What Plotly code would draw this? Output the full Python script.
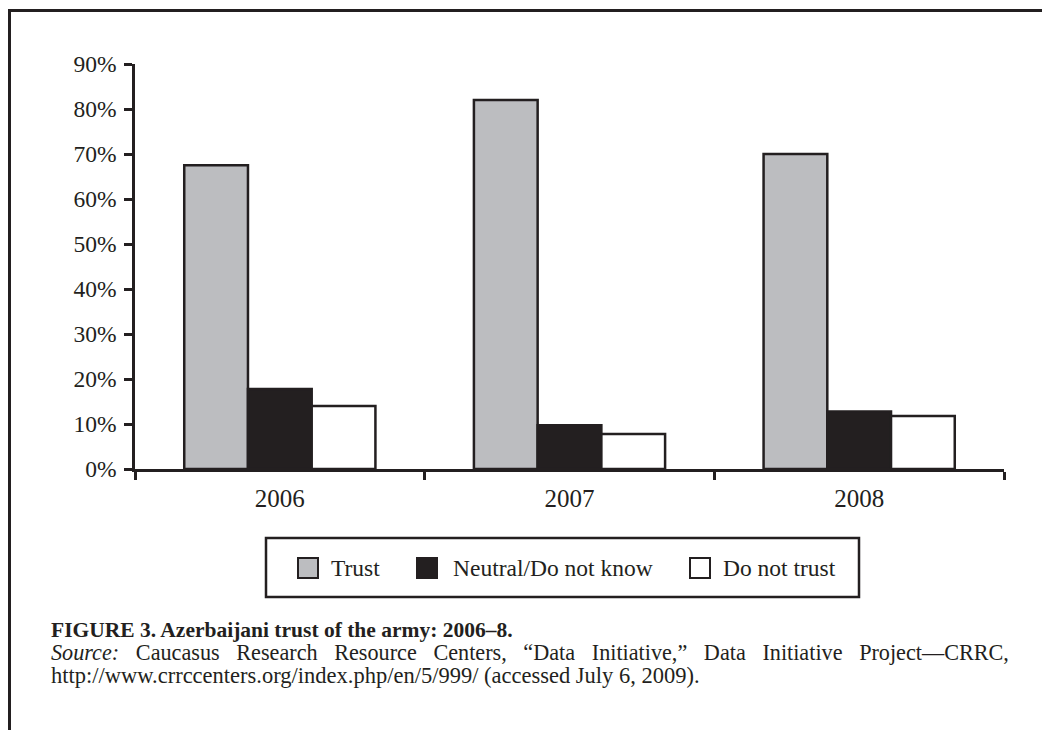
import plotly.graph_objects as go

years = ["2006", "2007", "2008"]
trust = [67.5, 82, 70]
neutral = [17.8, 9.7, 12.8]
no_trust = [14, 7.8, 11.8]
series_names = ["Trust", "Neutral/Do not know", "Do not trust"]
series_fill = ["#bcbdc0", "#231f20", "#ffffff"]
OUT = "#231f20"
FONT = "Liberation Serif"

# page has an 8px body margin; work in reference pixel coordinates
OFF = 8
W, H = 1050 - OFF, 730 - OFF
L, R, T, B = 135, 1004, 64, 469


def fx(px):
    return (px - L) / (R - L)


def fy(py):
    return (B - py) / (B - T)


fig = go.Figure()
for name, vals, col in zip(series_names, [trust, neutral, no_trust], series_fill):
    fig.add_trace(go.Bar(x=years, y=vals, name=name, marker=dict(color=col, line=dict(color=OUT, width=2.5)),
                         showlegend=False))

shapes = []
# frame
shapes.append(dict(type="line", xref="paper", yref="paper", x0=fx(9.5), x1=fx(9.5), y0=fy(9), y1=fy(740),
                   line=dict(color=OUT, width=3)))
shapes.append(dict(type="line", xref="paper", yref="paper", x0=fx(8), x1=fx(1070), y0=fy(10.5), y1=fy(10.5),
                   line=dict(color=OUT, width=3)))
# legend box
shapes.append(dict(type="rect", xref="paper", yref="paper", x0=fx(266), x1=fx(859), y0=fy(538), y1=fy(597),
                   line=dict(color=OUT, width=2.5), fillcolor="white"))
annotations = []
leg_sq = [298, 417, 690]
leg_tx = [329, 451, 721]
for sx, tx, name, col in zip(leg_sq, leg_tx, series_names, series_fill):
    shapes.append(dict(type="rect", xref="paper", yref="paper", x0=fx(sx), x1=fx(sx + 20), y0=fy(558), y1=fy(578),
                       line=dict(color=OUT, width=2), fillcolor=col))
    annotations.append(dict(xref="paper", yref="paper", x=fx(tx), y=fy(568), text=name, showarrow=False,
                            xanchor="left", yanchor="middle", font=dict(family=FONT, size=23.5, color=OUT)))

G = " \u00a0\u00a0"  # widened word gap (justified line)
src = G.join(["Caucasus", "Research", "Resource", "Centers,", "“Data", "Initiative,”", "Data", "Initiative",
              "Project—CRRC,"])
cap = [
    ("<b>FIGURE 3. Azerbaijani trust of the army: 2006–8.</b>", 630, 21.5),
    ("<i>Source:</i>" + G + src, 652, 22.2),
    ("http://www.crrccenters.org/index.php/en/5/999/ (accessed July 6, 2009).", 675, 22.5),
]
for txt, py, fs in cap:
    annotations.append(dict(xref="paper", yref="paper", x=fx(49), y=fy(py), text=txt, showarrow=False,
                            xanchor="left", yanchor="middle", font=dict(family=FONT, size=fs, color=OUT)))

fig.update_layout(
    width=W, height=H,
    margin=dict(l=L - OFF, r=1050 - R, t=T - OFF, b=730 - B, pad=0),
    paper_bgcolor="white", plot_bgcolor="white",
    barmode="group", bargap=0.34, bargroupgap=0,
    font=dict(family=FONT, size=23.5, color=OUT),
    shapes=shapes, annotations=annotations,
    xaxis=dict(showline=True, linecolor=OUT, linewidth=2.5, ticks="outside", ticklen=8, tickwidth=2.5,
               tickcolor=OUT, tickson="boundaries", showgrid=False, zeroline=False,
               tickfont=dict(family=FONT, size=25, color=OUT), ticklabelstandoff=5, fixedrange=True),
    yaxis=dict(range=[0, 90], dtick=10, ticksuffix="%", showline=True, linecolor=OUT, linewidth=2.5,
               ticks="outside", ticklen=8, tickwidth=2.5, tickcolor=OUT, showgrid=False, zeroline=False,
               tickfont=dict(family=FONT, size=23.5, color=OUT), ticklabelstandoff=3, fixedrange=True),
)

fig.write_html("out.html")
